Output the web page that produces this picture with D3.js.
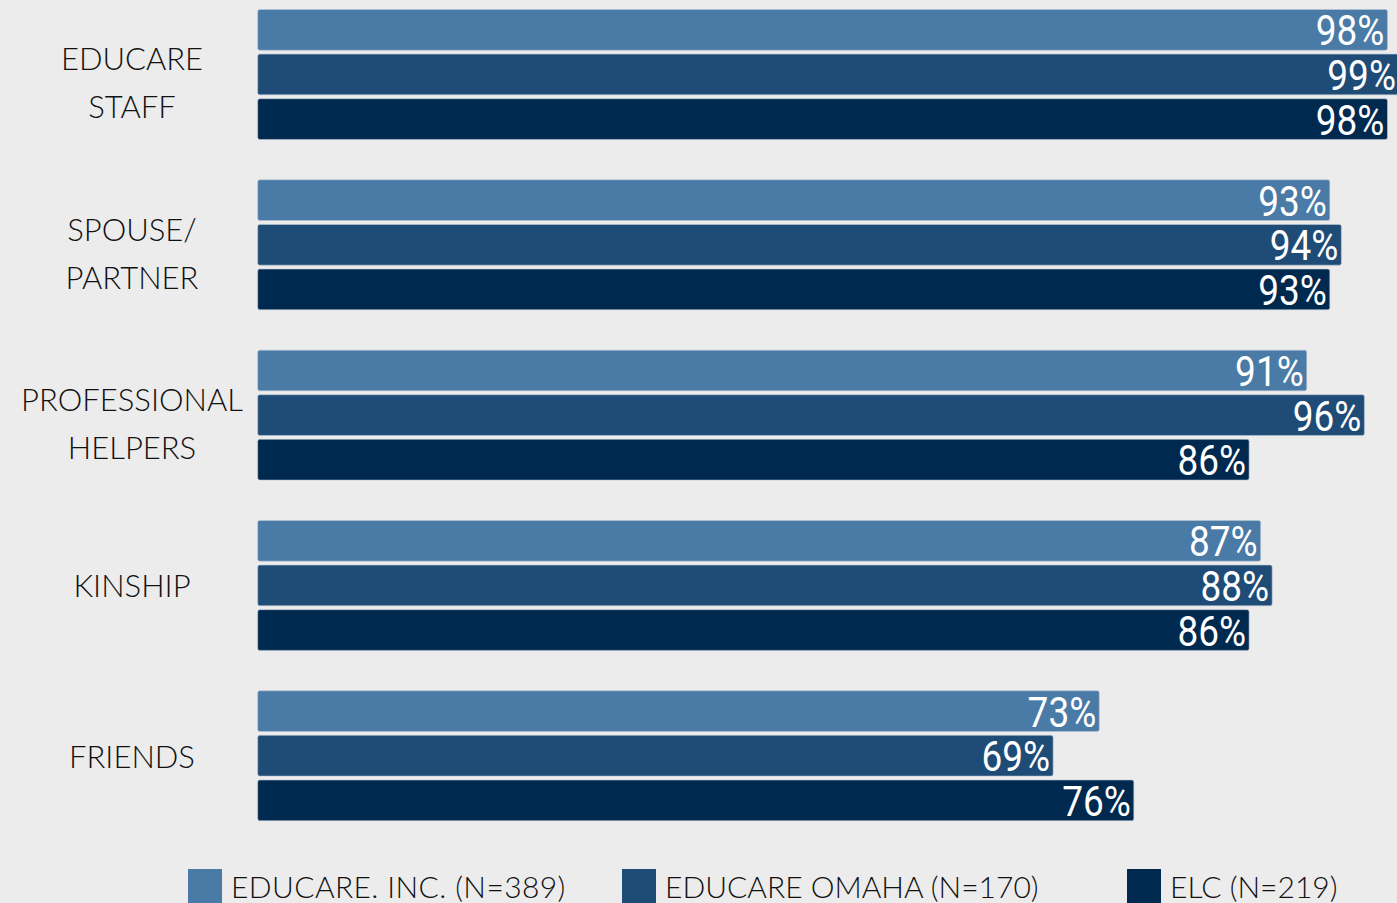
<!DOCTYPE html>
<html>
<head>
<meta charset="utf-8">
<script src="https://cdn.jsdelivr.net/npm/d3@7"></script>
<style>
  html, body { margin: 0; padding: 0; background: #ececec; overflow: hidden; }
  svg { display: block; }
  .cat { font-family: Lato, "Open Sans", sans-serif; font-weight: 300; font-size: 31px; fill: #111; }
  .val { font-family: Roboto, "Noto Sans", sans-serif; font-size: 43px; fill: #fff; }
  .leg { font-family: Lato, "Open Sans", sans-serif; font-weight: 300; font-size: 30px; fill: #111; }
</style>
</head>
<body>
<svg id="chart" width="1397" height="903"></svg>
<script>
// data
var categories = [["EDUCARE", "STAFF"], ["SPOUSE/", "PARTNER"], ["PROFESSIONAL", "HELPERS"], ["KINSHIP"], ["FRIENDS"]];
var seriesNames = ["EDUCARE. INC. (N=389)", "EDUCARE OMAHA (N=170)", "ELC (N=219)"];
var educareInc = [98, 93, 91, 87, 73];
var educareOmaha = [99, 94, 96, 88, 69];
var elc = [98, 93, 86, 86, 76];
var colors = ["#4a7aa6", "#1f4c76", "#00294f"];

var series = [educareInc, educareOmaha, elc];

var svg = d3.select("#chart");

// scales
var x = d3.scaleLinear().domain([0, 100]).range([257.7, 1410.5]);
var y0 = d3.scaleBand()
    .domain(d3.range(categories.length))
    .range([9.5, 820.7])
    .paddingInner(0.237)
    .paddingOuter(0);
var y1 = d3.scaleBand()
    .domain(d3.range(series.length))
    .range([0, y0.bandwidth()])
    .paddingInner(0.0875);

var groups = svg.selectAll("g.grp")
    .data(categories)
    .enter()
    .append("g")
    .attr("class", "grp")
    .attr("transform", function(d, i) { return "translate(0," + y0(i) + ")"; });

groups.each(function(cat, i) {
  var g = d3.select(this);
  series.forEach(function(s, j) {
    g.append("rect")
      .attr("x", x(0))
      .attr("y", y1(j))
      .attr("width", x(s[i]) - x(0))
      .attr("height", y1.bandwidth())
      .attr("rx", 2)
      .attr("fill", colors[j])
      .attr("stroke", "#b9c6d4")
      .attr("stroke-width", 0.6);

    // condensed look: squeeze the label horizontally
    g.append("text")
      .attr("class", "val")
      .attr("transform", "translate(" + (x(s[i]) - 3) + "," + (y1(j) + y1.bandwidth() / 2 + 15.5) + ") scale(0.86,1)")
      .attr("text-anchor", "end")
      .text(s[i] + "%");
  });

  // category label
  var cy = y0.bandwidth() / 2;
  var offs = cat.length === 2 ? [-16, 32] : [0];
  cat.forEach(function(t, k) {
    g.append("text")
      .attr("class", "cat")
      .attr("x", 132)
      .attr("y", cy + offs[k] + 12)
      .attr("text-anchor", "middle")
      .text(t);
  });
});

// legend
var legX = [188, 622, 1127];
var legend = svg.append("g");
seriesNames.forEach(function(n, j) {
  legend.append("rect")
    .attr("x", legX[j])
    .attr("y", 869)
    .attr("width", 34)
    .attr("height", 34)
    .attr("fill", colors[j]);
  legend.append("text")
    .attr("class", "leg")
    .attr("x", legX[j] + 43)
    .attr("y", 898)
    .attr("letter-spacing", j === 0 ? 0.4 : 0)
    .text(n);
});
</script>
</body>
</html>
